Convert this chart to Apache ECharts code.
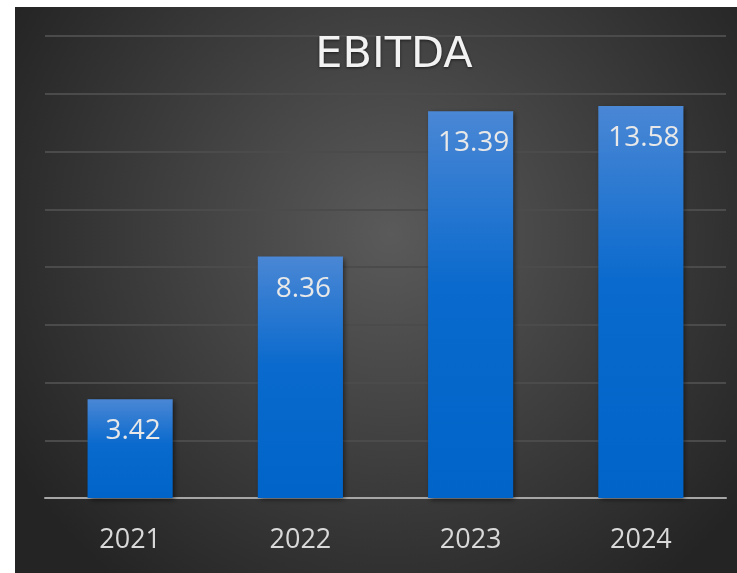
<!DOCTYPE html>
<html>
<head>
<meta charset="utf-8">
<script src="https://cdn.jsdelivr.net/npm/echarts@6/dist/echarts.min.js"></script>
<style>
  html, body { margin: 0; padding: 0; background: #ffffff; }
  #chart { position: absolute; left: 15px; top: 7px; width: 722px; height: 566px; }
</style>
</head>
<body>
<div id="chart"></div>
<script>
// EBITDA per year
const years = ["2021", "2022", "2023", "2024"];
const ebitda = [3.42, 8.36, 13.39, 13.58];
const yMax = 16;
const yStep = 2;

const chart = echarts.init(document.getElementById("chart"));
chart.setOption({
  animation: false,
  backgroundColor: {
    type: "radial", x: 0.52, y: 0.4, r: 0.78,
    colorStops: [
      { offset: 0, color: "#5a5a5a" },
      { offset: 1, color: "#242424" },
    ],
  },
  title: {
    text: "EBITDA",
    left: 374,
    top: 22,
    textAlign: "center",
    textStyle: {
      color: "#f2f2f2",
      fontFamily: "DejaVu Sans",
      fontWeight: "normal",
      fontSize: 43,
      textShadowColor: "rgba(0,0,0,0.6)",
      textShadowBlur: 3,
      textShadowOffsetY: 1,
    },
  },
  grid: { left: 30, right: 11, top: 29, bottom: 75 },
  xAxis: {
    type: "category",
    data: years,
    axisTick: { show: false },
    axisLine: { lineStyle: { color: "#a6a6a6", width: 2 } },
    axisLabel: {
      color: "#d9d9d9",
      fontFamily: "Open Sans",
      fontSize: 27,
      margin: 29,
    },
  },
  yAxis: {
    type: "value",
    min: 0,
    max: yMax,
    interval: yStep,
    axisLabel: { show: false },
    axisLine: { show: false },
    axisTick: { show: false },
    splitLine: { lineStyle: { color: "#4b4b4b", width: 2 } },
  },
  series: [
    {
      type: "bar",
      data: ebitda,
      barWidth: "50%",
      itemStyle: {
        color: {
          type: "linear", x: 0, y: 0, x2: 0, y2: 1,
          colorStops: [
            { offset: 0, color: "#4a87d5" },
            { offset: 0.45, color: "#0a6acd" },
            { offset: 1, color: "#0064c8" },
          ],
        },
        shadowColor: "rgba(0,0,0,0.55)",
        shadowBlur: 5,
        shadowOffsetX: 2,
        shadowOffsetY: 2,
      },
      label: {
        show: true,
        position: "insideTop",
        distance: 18,
        offset: [3, 0],
        color: "#e8e8e8",
        fontFamily: "Open Sans",
        fontSize: 28,
      },
    },
  ],
});
</script>
</body>
</html>
